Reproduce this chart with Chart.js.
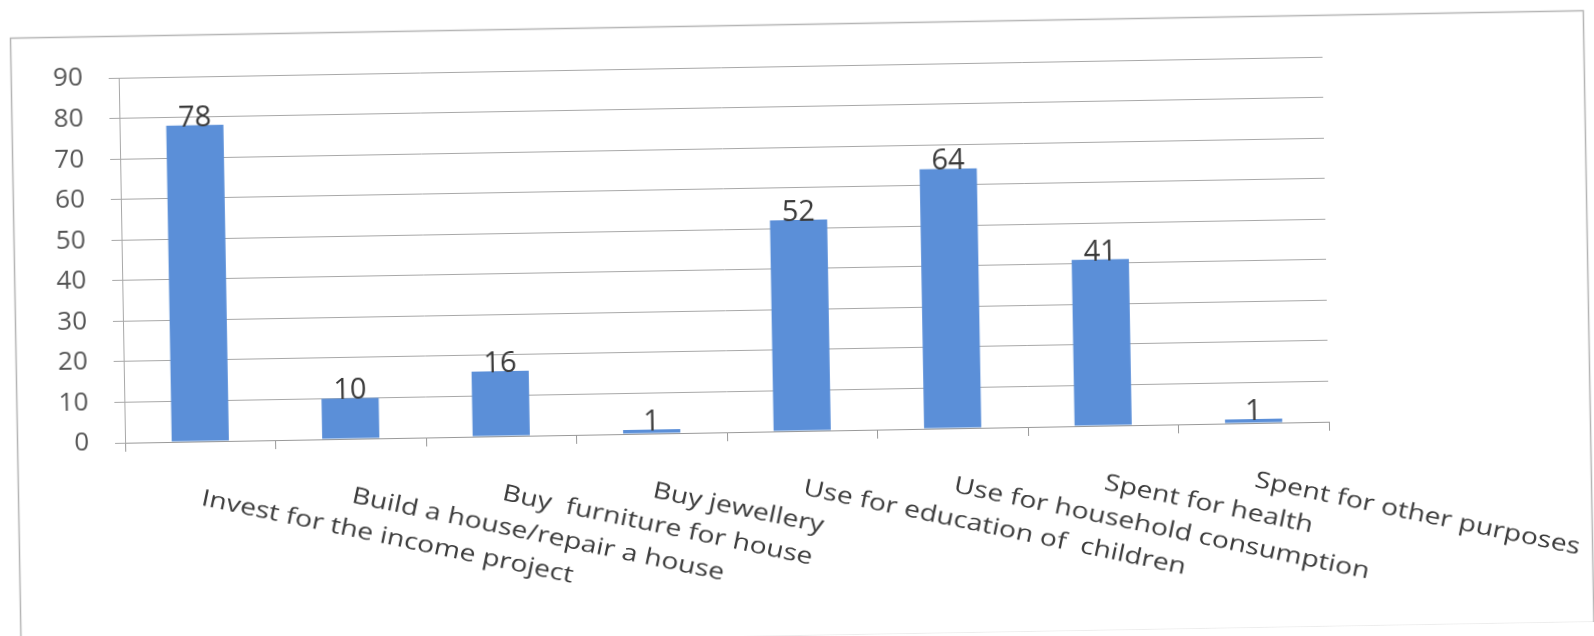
<!DOCTYPE html>
<html>
<head>
<meta charset="utf-8">
<script src="https://cdn.jsdelivr.net/npm/chart.js@4"></script>
<style>
  html, body { margin: 0; padding: 0; background: #ffffff; overflow: hidden; }
  #wrap { position: absolute; left: 0; top: 0; width: 1594px; height: 636px; transform: rotate(-1deg); transform-origin: 797px 318px; }
</style>
</head>
<body>
<div id="wrap"><canvas id="c" width="1594" height="636"></canvas></div>
<script>
const categories = [
  'Invest for the income project',
  'Build a house/repair a house',
  'Buy  furniture for house',
  'Buy jewellery',
  'Use for education of  children',
  'Use for household consumption',
  'Spent for health',
  'Spent for other purposes'
];
const values = [78, 10, 16, 1, 52, 64, 41, 1];
const yTickValues = [0, 10, 20, 30, 40, 50, 60, 70, 80, 90];

const LABEL_ANGLE = 12.8 * Math.PI / 180;

const frame = {
  id: 'frame',
  beforeDraw(chart) {
    const ctx = chart.ctx;
    ctx.save();
    ctx.fillStyle = '#ffffff';
    ctx.fillRect(0, 0, chart.width, chart.height);
    ctx.strokeStyle = '#b5b5b5';
    ctx.lineWidth = 1.5;
    ctx.strokeRect(15.5, 24.5, 1573, 612);
    ctx.restore();
  }
};

const valueLabels = {
  id: 'valueLabels',
  afterDatasetsDraw(chart) {
    const ctx = chart.ctx;
    const meta = chart.getDatasetMeta(0);
    ctx.save();
    ctx.font = '29px "Open Sans"';
    ctx.fillStyle = '#3a3a3a';
    ctx.textAlign = 'center';
    ctx.textBaseline = 'alphabetic';
    meta.data.forEach((bar, i) => {
      ctx.fillText(String(chart.data.datasets[0].data[i]), bar.x, bar.y + 1);
    });
    ctx.restore();
  }
};

const slantedLabels = {
  id: 'slantedLabels',
  afterDraw(chart) {
    const ctx = chart.ctx;
    const xs = chart.scales.x;
    ctx.save();
    ctx.font = '23px "Open Sans"';
    ctx.fillStyle = '#3c3c3c';
    ctx.textAlign = 'left';
    ctx.textBaseline = 'top';
    chart.data.labels.forEach((lab, i) => {
      const x = xs.getPixelForTick(i) + 3;
      const y = xs.top + 46;
      ctx.save();
      ctx.translate(x, y);
      ctx.rotate(LABEL_ANGLE);
      ctx.scale(1.23, 1);
      ctx.fillText(lab, 0, 0);
      ctx.restore();
    });
    ctx.restore();
  }
};

new Chart(document.getElementById('c'), {
  type: 'bar',
  data: {
    labels: categories,
    datasets: [{
      data: values,
      backgroundColor: '#5B8FD8',
      borderWidth: 0,
      barPercentage: 0.38,
      categoryPercentage: 1.0
    }]
  },
  options: {
    responsive: false,
    animation: false,
    devicePixelRatio: 1,
    layout: { padding: { left: 0, top: 66, right: 267, bottom: 0 } },
    plugins: { legend: { display: false }, tooltip: { enabled: false }, title: { display: false } },
    scales: {
      x: {
        offset: true,
        grid: { display: true, drawOnChartArea: false, drawTicks: true, tickLength: 9, color: '#999999', offset: true },
        border: { display: true, color: '#999999', width: 1 },
        ticks: { display: false },
        afterFit(scale) { scale.height = 636 - 431; }
      },
      y: {
        min: yTickValues[0],
        max: yTickValues[yTickValues.length - 1],
        ticks: {
          stepSize: yTickValues[1] - yTickValues[0],
          color: '#555555',
          font: { family: 'Open Sans', size: 26 },
          padding: 26
        },
        grid: { color: '#a8a8a8', lineWidth: 1, drawTicks: true, tickLength: 10 },
        border: { display: true, color: '#a8a8a8', width: 1 },
        afterFit(scale) { scale.width = 123; }
      }
    }
  },
  plugins: [frame, valueLabels, slantedLabels]
});
</script>
</body>
</html>
